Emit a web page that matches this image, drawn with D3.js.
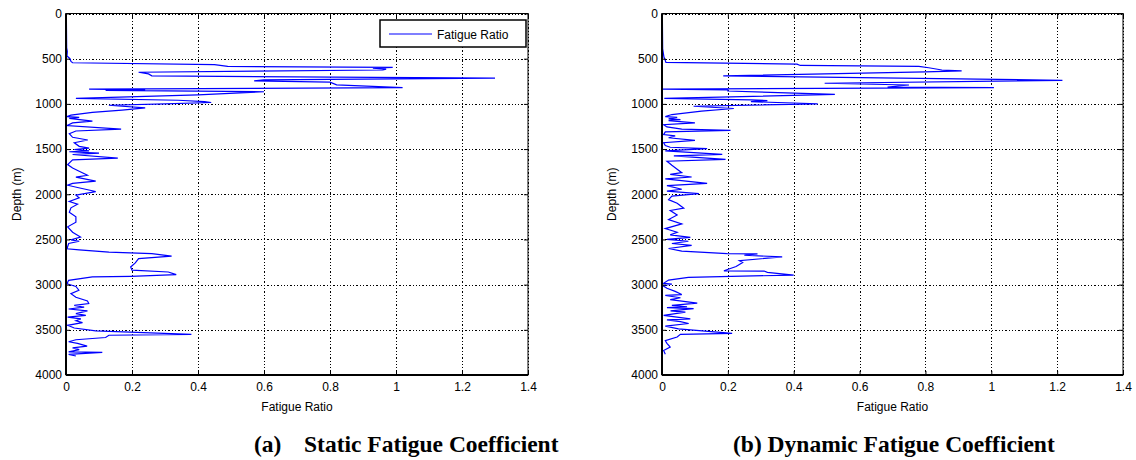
<!DOCTYPE html>
<html><head><meta charset="utf-8">
<script src="https://cdn.jsdelivr.net/npm/d3@7"></script>
<style>
html,body{margin:0;padding:0;background:#fff;}
svg{display:block;}
.tick text{font-family:"Liberation Sans",Arial,sans-serif;font-size:12px;fill:#000;}
</style></head>
<body>
<svg id="chart" width="1136" height="460"></svg>
<script>
// ---- data ----
const xTicks = [0, 0.2, 0.4, 0.6, 0.8, 1, 1.2, 1.4];
const xTickLabels = ["0", "0.2", "0.4", "0.6", "0.8", "1", "1.2", "1.4"];
const yTicks = [0, 500, 1000, 1500, 2000, 2500, 3000, 3500, 4000];
const yTickLabels = ["0", "500", "1000", "1500", "2000", "2500", "3000", "3500", "4000"];
const seriesName = "Fatigue Ratio";
const captions = ["(a)", "Static Fatigue Coefficient", "(b) Dynamic Fatigue Coefficient"];

const staticDepth = [0,380,420,470,500,530,545,565,585,597,605,615,625,650,668,690,716,735,746,760,790,820,836,845,850,866,900,940,960,975,985,1000,1015,1045,1070,1095,1125,1140,1150,1160,1190,1210,1240,1280,1300,1330,1370,1400,1430,1470,1490,1505,1520,1530,1545,1560,1600,1620,1672,1710,1745,1790,1810,1855,1880,1900,1925,1970,2010,2040,2080,2110,2150,2200,2250,2309,2360,2420,2474,2505,2520,2545,2603,2615,2640,2658,2684,2713,2760,2805,2840,2860,2890,2908,2915,2952,2990,3020,3062,3100,3140,3180,3209,3230,3250,3270,3290,3320,3340,3360,3380,3400,3420,3450,3480,3511,3551,3560,3585,3610,3632,3650,3680,3700,3720,3745,3750,3772,3790];
const staticRatio = [0.001,0.002,0.004,0.003,0.012,0.015,0.02,0.45,0.49,0.99,0.93,0.97,0.96,0.22,0.25,0.26,1.30,0.60,0.57,0.80,0.82,1.02,0.07,0.24,0.12,0.60,0.40,0.03,0.34,0.42,0.44,0.30,0.13,0.24,0.17,0.08,0.015,0.003,0.04,0.01,0.08,0.02,0.003,0.167,0.03,0.01,0.02,0.066,0.025,0.04,0.07,0.025,0.07,0.01,0.10,0.02,0.157,0.02,0.005,0.02,0.04,0.065,0.03,0.09,0.02,0.005,0.035,0.09,0.03,0.04,0.01,0.035,0.015,0.01,0.03,0.03,0.005,0.02,0.044,0.015,0.04,0.008,0.003,0.04,0.13,0.26,0.32,0.22,0.21,0.196,0.20,0.31,0.334,0.196,0.08,0.008,0.003,0.03,0.039,0.015,0.03,0.065,0.069,0.025,0.055,0.008,0.065,0.03,0.06,0.005,0.045,0.03,0.05,0.005,0.025,0.09,0.38,0.13,0.12,0.03,0.008,0.035,0.064,0.02,0.04,0.008,0.11,0.008,0.03];

const dynamicDepth = [0,390,485,520,541,560,575,586,600,625,634,645,690,739,772,791,813,821,836,845,858,895,940,955,963,975,1000,1026,1051,1080,1118,1140,1150,1165,1175,1185,1210,1230,1255,1280,1294,1310,1340,1355,1375,1404,1430,1460,1480,1496,1520,1559,1575,1614,1635,1680,1720,1761,1780,1809,1830,1879,1905,1945,1965,1993,2020,2060,2100,2154,2180,2230,2280,2328,2380,2420,2450,2478,2500,2520,2545,2565,2600,2630,2657,2660,2675,2693,2735,2755,2800,2847,2850,2865,2894,2920,2950,2985,2995,3010,3040,3075,3110,3120,3145,3165,3204,3230,3245,3255,3265,3290,3305,3340,3380,3390,3410,3430,3460,3490,3540,3550,3580,3620,3650,3690,3730,3770];
const dynamicRatio = [0.001,0.002,0.006,0.01,0.012,0.41,0.42,0.78,0.81,0.85,0.91,0.80,0.186,1.216,0.494,0.75,0.685,1.008,0.002,0.2,0.2,0.525,0.007,0.27,0.32,0.27,0.473,0.096,0.218,0.12,0.03,0.01,0.046,0.02,0.056,0.02,0.10,0.005,0.015,0.06,0.208,0.01,0.005,0.04,0.02,0.10,0.005,0.01,0.025,0.137,0.01,0.183,0.036,0.193,0.015,0.03,0.045,0.06,0.025,0.09,0.01,0.137,0.015,0.06,0.015,0.112,0.03,0.02,0.046,0.066,0.025,0.046,0.02,0.06,0.01,0.046,0.025,0.086,0.015,0.08,0.03,0.09,0.02,0.06,0.198,0.29,0.25,0.365,0.235,0.245,0.225,0.188,0.31,0.32,0.40,0.08,0.02,0.005,0.03,0.002,0.015,0.04,0.06,0.01,0.056,0.025,0.107,0.03,0.076,0.015,0.096,0.026,0.071,0.005,0.086,0.015,0.056,0.081,0.01,0.05,0.213,0.056,0.046,0.01,0.015,0.025,0.005,0.01];

// ---- layout ----
const svg = d3.select("#chart");
const FONT = '"Liberation Sans",Arial,sans-serif';
const yTop = 13.5, yBot = 375;
const panels = [
  {x0: 66, x1: 528, depth: staticDepth, ratio: staticRatio, legend: true, ylabX: 17},
  {x0: 662, x1: 1123, depth: dynamicDepth, ratio: dynamicRatio, legend: false, ylabX: 612}
];

panels.forEach(p => {
  const x = d3.scaleLinear().domain([0, 1.4]).range([p.x0, p.x1]);
  const y = d3.scaleLinear().domain([0, 4000]).range([yTop, yBot]);
  const g = svg.append("g");
  const w = p.x1 - p.x0, h = yBot - yTop;

  // grid
  const gx = g.append("g").attr("transform", `translate(0,${yBot})`)
    .call(d3.axisBottom(x).tickValues(xTicks).tickSize(-h).tickFormat(""));
  const gy = g.append("g").attr("transform", `translate(${p.x0},0)`)
    .call(d3.axisLeft(y).tickValues(yTicks).tickSize(-w).tickFormat(""));
  [gx, gy].forEach(a => {
    a.select(".domain").remove();
    a.selectAll("line").attr("stroke", "#000").attr("stroke-width", 1)
      .attr("stroke-dasharray", "1.3,2").attr("shape-rendering", "crispEdges");
  });

  // series line
  const pts = p.depth.map((d, i) => [p.ratio[i], d]);
  g.append("path").datum(pts)
    .attr("fill", "none").attr("stroke", "#0000ff").attr("stroke-width", 1.2)
    .attr("d", d3.line().x(d => x(d[0])).y(d => y(d[1])));

  // axes with inward ticks
  const ax = g.append("g").attr("transform", `translate(0,${yBot})`)
    .call(d3.axisBottom(x).tickValues(xTicks).tickFormat((d, i) => xTickLabels[i]).tickSize(-4).tickPadding(7));
  const ay = g.append("g").attr("transform", `translate(${p.x0},0)`)
    .call(d3.axisLeft(y).tickValues(yTicks).tickFormat((d, i) => yTickLabels[i]).tickSize(-4).tickPadding(4));
  const axT = g.append("g").attr("transform", `translate(0,${yTop})`)
    .call(d3.axisTop(x).tickValues(xTicks).tickFormat("").tickSize(-4));
  const ayR = g.append("g").attr("transform", `translate(${p.x1},0)`)
    .call(d3.axisRight(y).tickValues(yTicks).tickFormat("").tickSize(-4));
  [ax, ay, axT, ayR].forEach(a => {
    a.select(".domain").remove();
    a.selectAll("line").attr("stroke", "#000").attr("stroke-width", 1);
  });
  ax.selectAll("text").attr("dy", "0.71em");

  // box
  g.append("rect").attr("x", p.x0).attr("y", yTop).attr("width", w).attr("height", h)
    .attr("fill", "none").attr("stroke", "#000").attr("stroke-width", 1);
  g.append("line").attr("x1", p.x0).attr("x2", p.x1).attr("y1", yBot).attr("y2", yBot)
    .attr("stroke", "#000").attr("stroke-width", 2);
  g.append("line").attr("x1", p.x0).attr("x2", p.x0).attr("y1", yTop).attr("y2", yBot)
    .attr("stroke", "#000").attr("stroke-width", 2);

  // axis titles
  g.append("text").attr("x", (p.x0 + p.x1) / 2).attr("y", 411)
    .attr("text-anchor", "middle").style("font-family", FONT).style("font-size", "12px")
    .text("Fatigue Ratio");
  g.append("text").attr("transform", `translate(${p.ylabX + 4},${(yTop + yBot) / 2}) rotate(-90)`)
    .attr("text-anchor", "middle").style("font-family", FONT).style("font-size", "12px")
    .text("Depth (m)");

  if (p.legend) {
    const lg = g.append("g");
    lg.append("rect").attr("x", 380).attr("y", 20).attr("width", 146).attr("height", 27)
      .attr("fill", "#fff").attr("stroke", "#000").attr("stroke-width", 1.5);
    lg.append("line").attr("x1", 389).attr("x2", 432).attr("y1", 34).attr("y2", 34)
      .attr("stroke", "#0000ff").attr("stroke-width", 1.2);
    lg.append("text").attr("x", 437).attr("y", 38.5).style("font-family", FONT)
      .style("font-size", "12px").text(seriesName);
  }
});

// captions
const capStyle = t => t.style("font-family", '"Liberation Serif","Times New Roman",serif')
  .style("font-size", "23.5px").style("font-weight", "bold").attr("fill", "#000");
capStyle(svg.append("text").attr("x", 254).attr("y", 452).text(captions[0]));
capStyle(svg.append("text").attr("x", 304).attr("y", 452).text(captions[1]));
capStyle(svg.append("text").attr("x", 733).attr("y", 452).text(captions[2]));
</script>
</body></html>
